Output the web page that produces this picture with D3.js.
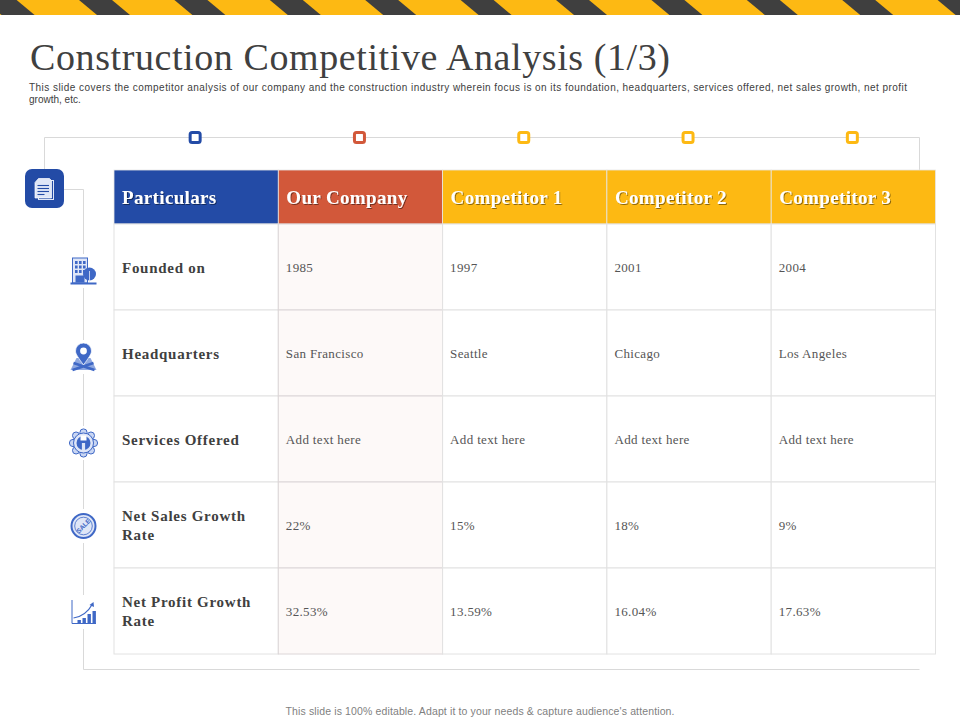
<!DOCTYPE html>
<html>
<head>
<meta charset="utf-8">
<script src="https://cdn.jsdelivr.net/npm/d3@7"></script>
<style>
  html, body { margin: 0; padding: 0; background: #fff; }
  svg { display: block; }
</style>
</head>
<body>
<div id="chart"></div>
<script>
var headers = ["Particulars", "Our Company", "Competitor 1", "Competitor 2", "Competitor 3"];
var headerColors = ["#234ba6", "#d2583a", "#fdb913", "#fdb913", "#fdb913"];
var rowLabels = [
  ["Founded on"],
  ["Headquarters"],
  ["Services Offered"],
  ["Net Sales Growth", "Rate"],
  ["Net Profit Growth", "Rate"]
];
var ourCompany = ["1985", "San Francisco", "Add text here", "22%", "32.53%"];
var competitor1 = ["1997", "Seattle", "Add text here", "15%", "13.59%"];
var competitor2 = ["2001", "Chicago", "Add text here", "18%", "16.04%"];
var competitor3 = ["2004", "Los Angeles", "Add text here", "9%", "17.63%"];
var columns = [ourCompany, competitor1, competitor2, competitor3];
var iconNames = ["building", "pin", "gear", "sale", "growth"];

var blue = "#234ba6";
var midBlue = "#3f68c6";
var lineColor = "#d9d9d9";
var serif = "'Liberation Serif', serif";
var sans = "'Liberation Sans', sans-serif";

var svg = d3.select("#chart").append("svg")
  .attr("width", 960)
  .attr("height", 720);

var defs = svg.append("defs");
var shadow = defs.append("filter").attr("id", "shadow");
shadow.append("feDropShadow")
  .attr("dx", 1).attr("dy", 1)
  .attr("stdDeviation", 0.6)
  .attr("flood-color", "#000")
  .attr("flood-opacity", 0.45);

// caution tape across the top
svg.append("rect")
  .attr("width", 960).attr("height", 15)
  .attr("fill", "#fdb913");
svg.append("g").selectAll("path")
  .data(d3.range(-1, 11))
  .enter().append("path")
  .attr("d", d => {
    var x = 79 + d * 95.4;
    return `M${x},0 h33 l18,15 h-33 Z`;
  })
  .attr("fill", "#3f3f3f");

// title block
svg.append("text")
  .attr("x", 30).attr("y", 70)
  .attr("font-family", serif)
  .attr("font-size", 38)
  .attr("fill", "#404040")
  .attr("textLength", 640)
  .attr("lengthAdjust", "spacing")
  .text("Construction Competitive Analysis (1/3)");

svg.append("text")
  .attr("x", 29).attr("y", 91)
  .attr("font-family", sans)
  .attr("font-size", 10)
  .attr("fill", "#404040")
  .attr("textLength", 878)
  .attr("lengthAdjust", "spacing")
  .text("This slide covers the competitor analysis of our company and the construction industry wherein focus is on its foundation, headquarters, services offered, net sales growth, net profit");
svg.append("text")
  .attr("x", 29).attr("y", 103)
  .attr("font-family", sans)
  .attr("font-size", 10)
  .attr("fill", "#404040")
  .text("growth, etc.");

svg.append("text")
  .attr("x", 480).attr("y", 715)
  .attr("text-anchor", "middle")
  .attr("font-family", sans)
  .attr("font-size", 10.5)
  .attr("fill", "#7f7f7f")
  .attr("textLength", 389)
  .attr("lengthAdjust", "spacing")
  .text("This slide is 100% editable. Adapt it to your needs & capture audience's attention.");

// table scales
var x = d3.scaleBand()
  .domain(headers)
  .range([114, 935.5]);

var y = d3.scaleBand()
  .domain(d3.range(rowLabels.length))
  .range([224, 654]);

// connector lines behind everything
var connectors = svg.append("g")
  .attr("fill", "none")
  .attr("stroke", lineColor)
  .attr("stroke-width", 1);
connectors.append("path").attr("d", "M44.5,170 V137.5 H919.5 V170");
connectors.append("path").attr("d", "M64,189.5 H83.5 V669.5 H919.5");

// small markers above the columns
svg.append("g").selectAll("rect")
  .data(headers)
  .enter().append("rect")
  .attr("x", d => x(d) + x.bandwidth() / 2 - 6)
  .attr("y", 132.5)
  .attr("width", 10)
  .attr("height", 10)
  .attr("rx", 2)
  .attr("fill", "#fff")
  .attr("stroke", (d, i) => headerColors[i])
  .attr("stroke-width", 3);

// header row
var headG = svg.append("g").selectAll("g")
  .data(headers)
  .enter().append("g");
headG.append("rect")
  .attr("x", d => x(d))
  .attr("y", 170)
  .attr("width", x.bandwidth())
  .attr("height", 54)
  .attr("fill", (d, i) => headerColors[i])
  .attr("stroke", "#e6e6e6")
  .attr("stroke-width", 0.8);
headG.append("text")
  .attr("x", d => x(d) + 8)
  .attr("y", 203.5)
  .attr("font-family", serif)
  .attr("font-weight", "bold")
  .attr("font-size", 19)
  .attr("letter-spacing", 0.35)
  .attr("fill", "#fff")
  .attr("filter", "url(#shadow)")
  .text(d => d);

// body cells
var rows = svg.append("g").selectAll("g")
  .data(rowLabels)
  .enter().append("g");

rows.append("rect")
  .attr("x", x(headers[0]))
  .attr("y", (d, i) => y(i))
  .attr("width", x.bandwidth())
  .attr("height", y.bandwidth())
  .attr("fill", "#fff")
  .attr("stroke", "#e2e2e2");

rows.append("text")
  .attr("font-family", serif)
  .attr("font-weight", "bold")
  .attr("font-size", 15)
  .attr("letter-spacing", 0.72)
  .attr("fill", "#404040")
  .each(function(d, i) {
    var cy = y(i) + y.bandwidth() / 2;
    d3.select(this).selectAll("tspan")
      .data(d)
      .enter().append("tspan")
      .attr("x", x(headers[0]) + 8)
      .attr("y", (t, j) => cy + 5.5 + (j - (d.length - 1) / 2) * 19)
      .text(t => t);
  });

columns.forEach(function(col, c) {
  var name = headers[c + 1];
  var g = svg.append("g");
  g.selectAll("rect")
    .data(col)
    .enter().append("rect")
    .attr("x", x(name))
    .attr("y", (d, i) => y(i))
    .attr("width", x.bandwidth())
    .attr("height", y.bandwidth())
    .attr("fill", c === 0 ? "#fdf9f8" : "#fff")
    .attr("stroke", c === 0 ? "#dcd6d8" : "#e2e2e2");
  g.selectAll("text")
    .data(col)
    .enter().append("text")
    .attr("x", x(name) + 7.5)
    .attr("y", (d, i) => y(i) + y.bandwidth() / 2 + 4.5)
    .attr("font-family", serif)
    .attr("font-size", 13)
    .attr("letter-spacing", 0.35)
    .attr("fill", "#555555")
    .text(d => d);
});

// main document icon
var doc = svg.append("g").attr("transform", "translate(44.5,188.5)");
doc.append("rect")
  .attr("x", -19.5).attr("y", -19.5)
  .attr("width", 39).attr("height", 39)
  .attr("rx", 7)
  .attr("fill", blue);
doc.append("rect")
  .attr("x", -6).attr("y", -8)
  .attr("width", 15).attr("height", 19)
  .attr("fill", "none")
  .attr("stroke", "#dfe6f7");
doc.append("path")
  .attr("d", "M-6,-10 H5 L7,-8 V9.5 H-9.5 V-6 Z")
  .attr("fill", "#dfe6f7")
  .attr("stroke", "#fff")
  .attr("stroke-width", 0.7);
doc.selectAll("line")
  .data([-3, 0, 3, 6])
  .enter().append("line")
  .attr("x1", -7).attr("x2", (d, i) => i === 3 ? 0 : 4.5)
  .attr("y1", d => d).attr("y2", d => d)
  .attr("stroke", blue)
  .attr("stroke-width", 1.1);

// row icons, each sits on a white patch that breaks the connector line
var iconCenters = [271, 357, 443, 526, 612];
var icons = svg.append("g").selectAll("g")
  .data(iconNames)
  .enter().append("g")
  .attr("transform", (d, i) => `translate(83.5,${iconCenters[i]})`);

icons.append("rect")
  .attr("x", -15).attr("y", -17)
  .attr("width", 30).attr("height", 34)
  .attr("fill", "#fff");

icons.each(function(name) {
  var g = d3.select(this);
  if (name === "building") {
    g.append("rect").attr("x", -11).attr("y", -13).attr("width", 15).attr("height", 25)
      .attr("fill", "#dfe6f7").attr("stroke", midBlue);
    d3.range(3).forEach(function(r) {
      d3.range(3).forEach(function(k) {
        g.append("rect").attr("x", -8.5 + k * 4).attr("y", -10 + r * 4.5)
          .attr("width", 2.6).attr("height", 3).attr("fill", midBlue);
      });
    });
    g.append("rect").attr("x", -8).attr("y", 4.5).attr("width", 9).attr("height", 7).attr("fill", midBlue);
    g.append("circle").attr("cx", 6).attr("cy", 3).attr("r", 6.5).attr("fill", midBlue);
    g.append("line").attr("x1", 6).attr("x2", 6).attr("y1", 0).attr("y2", 11)
      .attr("stroke", "#dfe6f7").attr("stroke-width", 0.8);
    g.append("rect").attr("x", -13).attr("y", 11.5).attr("width", 26).attr("height", 2).attr("fill", midBlue);
  } else if (name === "pin") {
    g.append("path").attr("d", "M-7,1 L-13,13 H13 L7,1 Z").attr("fill", "#8fa8e0");
    g.append("path").attr("d", "M-10,6 L11,13 M10,6 L-11,13").attr("stroke", midBlue).attr("stroke-width", 2.4);
    g.append("path")
      .attr("d", "M0,8 C-5,1 -8,-3 -8,-6 A8,8 0 1 1 8,-6 C8,-3 5,1 0,8 Z")
      .attr("fill", midBlue)
      .attr("stroke", "#fff")
      .attr("stroke-width", 0.7);
    g.append("circle").attr("cx", 0).attr("cy", -6).attr("r", 3.4).attr("fill", "#fff");
  } else if (name === "gear") {
    g.selectAll("circle.tooth")
      .data(d3.range(8))
      .enter().append("circle")
      .attr("cx", d => 10.5 * Math.cos(d * Math.PI / 4))
      .attr("cy", d => 10.5 * Math.sin(d * Math.PI / 4))
      .attr("r", 3.6)
      .attr("fill", "#c9d6f3")
      .attr("stroke", midBlue);
    g.append("circle").attr("r", 10).attr("fill", "#dfe6f7").attr("stroke", midBlue);
    g.append("circle").attr("r", 7).attr("fill", midBlue);
    g.append("path").attr("d", "M-3,-7.5 V-2.5 H3 V-7.5 Z").attr("fill", "#fff");
    g.append("rect").attr("x", -1.6).attr("y", 0).attr("width", 3.2).attr("height", 7).attr("fill", "#dfe6f7");
  } else if (name === "sale") {
    g.append("circle").attr("r", 12).attr("fill", "#dfe6f7").attr("stroke", midBlue).attr("stroke-width", 2);
    g.append("circle").attr("r", 8.8).attr("fill", "none").attr("stroke", midBlue).attr("stroke-width", 0.8);
    g.append("text")
      .attr("transform", "rotate(-45)")
      .attr("y", 2.2)
      .attr("text-anchor", "middle")
      .attr("font-family", sans)
      .attr("font-weight", "bold")
      .attr("font-size", 6.5)
      .attr("fill", midBlue)
      .text("SALE");
  } else if (name === "growth") {
    g.append("path").attr("d", "M-11.5,-12 V11.5 H12.5").attr("fill", "none").attr("stroke", midBlue);
    g.selectAll("rect.bar")
      .data([[-6, 3], [-1, 5], [4, 9], [9, 12]])
      .enter().append("rect")
      .attr("x", d => d[0])
      .attr("y", d => 11 - d[1])
      .attr("width", 3.4)
      .attr("height", d => d[1])
      .attr("fill", midBlue);
    g.append("path").attr("d", "M-10,6 C-3,5 4,1 9,-8").attr("fill", "none").attr("stroke", midBlue).attr("stroke-width", 1.2);
    g.append("path").attr("d", "M6,-7 L10,-10 L10.5,-5 Z").attr("fill", midBlue);
  }
});
</script>
</body>
</html>
